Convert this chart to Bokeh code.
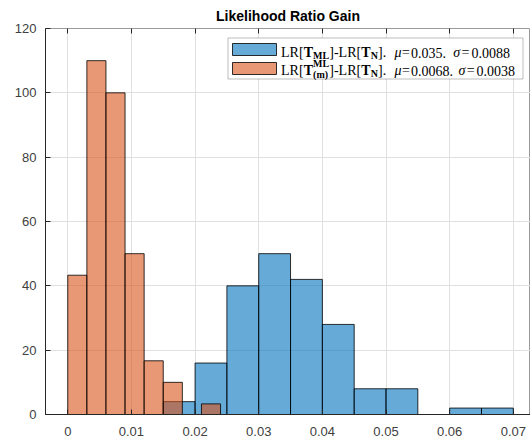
from bokeh.plotting import figure
from bokeh.models import Range1d, LinearAxis, FixedTicker, Label, BoxAnnotation, CustomJSTickFormatter
from bokeh.embed import file_html
from bokeh.resources import INLINE

# ---- data (pdf-normalised histograms) ----
blue_edges = [0.015, 0.020, 0.025, 0.030, 0.035, 0.040, 0.045, 0.050, 0.055, 0.060, 0.065, 0.070]
blue_density = [4, 16, 40, 50, 42, 28, 8, 8, 0, 2, 2]
orange_edges = [0.000, 0.003, 0.006, 0.009, 0.012, 0.015, 0.018, 0.021, 0.024]
orange_density = [43.3, 110.0, 100.0, 50.0, 16.7, 10.0, 0.0, 3.3]

x_ticks = [0, 0.01, 0.02, 0.03, 0.04, 0.05, 0.06, 0.07]
x_tick_labels = ["0", "0.01", "0.02", "0.03", "0.04", "0.05", "0.06", "0.07"]
y_ticks = [0, 20, 40, 60, 80, 100, 120]

blue_mu, blue_sigma = "0.035", "0.0088"
orange_mu, orange_sigma = "0.0068", "0.0038"
title_text = "Likelihood Ratio Gain"

BLUE = "#0072BD"
ORANGE = "#D95319"
AX = "#262626"
LBL = "#404040"
W, H = 530, 442
ML, MB = 45, 28          # frame left / bottom borders

p = figure(width=W, height=H, output_backend="svg", toolbar_location=None,
           x_range=Range1d(-0.0035, 0.0727), y_range=Range1d(0, 120),
           min_border_left=ML, min_border_right=0, min_border_top=27, min_border_bottom=MB)
p.background_fill_color = "white"
p.border_fill_color = "white"
p.outline_line_color = "#9a9a9a"
p.outline_line_width = 1

p.title.text = title_text
p.title.align = "center"
p.title.text_font = "Liberation Sans"
p.title.text_font_size = "14px"
p.title.text_font_style = "bold"
p.title.text_color = "#000000"

xt = FixedTicker(ticks=x_ticks)
yt = FixedTicker(ticks=y_ticks)
overrides = {t: l for t, l in zip(x_ticks, x_tick_labels)}

for ax in p.xaxis + p.yaxis:
    ax.axis_line_color = AX
    ax.major_tick_line_color = AX
    ax.major_tick_in = 5
    ax.major_tick_out = 0
    ax.minor_tick_line_color = None
    ax.major_label_text_font = "Liberation Sans"
    ax.major_label_text_font_size = "13px"
    ax.major_label_text_color = LBL
p.xaxis.ticker = xt
p.xaxis.major_label_overrides = overrides
p.xaxis.major_label_standoff = 12
p.yaxis.ticker = yt
p.yaxis.major_label_standoff = 9

top_ax = LinearAxis(ticker=xt, formatter=CustomJSTickFormatter(code="return ''"),
                    major_label_standoff=0,
                    axis_line_color=None, major_tick_line_color=AX,
                    major_tick_in=5, major_tick_out=0, minor_tick_line_color=None)
p.add_layout(top_ax, "above")

p.xgrid.ticker = xt
p.ygrid.ticker = yt
p.xgrid.grid_line_color = "#e0e0e0"
p.ygrid.grid_line_color = "#e0e0e0"

p.quad(left=blue_edges[:-1], right=blue_edges[1:], bottom=0, top=blue_density,
       fill_color=BLUE, fill_alpha=0.6, line_color="#000000", line_alpha=0.8, line_width=1)
p.quad(left=orange_edges[:-1], right=orange_edges[1:], bottom=0, top=orange_density,
       fill_color=ORANGE, fill_alpha=0.6, line_color="#000000", line_alpha=0.8, line_width=1)

# ---- manual legend (screen units are relative to the frame, origin bottom-left) ----
FB = H - MB  # canvas y of frame bottom

def fx(x):
    return x - ML

def fy(y):
    return FB - y

p.add_layout(BoxAnnotation(left=fx(227.5), right=fx(522.5), top=fy(37.5), bottom=fy(78.5),
                           left_units="screen", right_units="screen",
                           top_units="screen", bottom_units="screen",
                           fill_color="white", fill_alpha=1.0,
                           line_color=AX, line_width=1, level="overlay"))
for (y0, y1, col) in [(43, 55, BLUE), (62, 74, ORANGE)]:
    p.add_layout(BoxAnnotation(left=fx(232), right=fx(276), top=fy(y0), bottom=fy(y1),
                               left_units="screen", right_units="screen",
                               top_units="screen", bottom_units="screen",
                               fill_color=col, fill_alpha=0.6,
                               line_color="#000000", line_alpha=0.8, line_width=1,
                               level="overlay"))

SERIF = "Liberation Serif"

def piece(x, y, text, size=14, style="normal"):
    p.add_layout(Label(x=fx(x), y=fy(y), x_units="screen", y_units="screen", text=text,
                       text_font=SERIF, text_font_size=f"{size}px", text_font_style=style,
                       text_color="#000000", text_baseline="alphabetic", text_align="left",
                       level="overlay"))

# line 1
b1 = 52
piece(280.5, b1, "LR[")
piece(303.2, b1, "T", style="bold")
piece(312.6, b1 + 3, "ML", size=10, style="bold")
piece(328.8, b1, "]-LR[")
piece(360.8, b1, "T", style="bold")
piece(370.2, b1 + 3, "N", size=10, style="bold")
piece(377.5, b1, "].")
piece(394.0, b1, "μ", style="italic")
piece(401.5, b1, "=")
piece(410.5, b1, blue_mu + ".")
piece(452.7, b1, "σ", style="italic")
piece(461.0, b1, "=")
piece(471.0, b1, blue_sigma)

# line 2
b2 = 70
piece(280.5, b2, "LR[")
piece(303.2, b2, "T", style="bold")
piece(312.6, b2 - 7, "ML", size=10, style="bold")
piece(312.6, b2 + 4, "(m)", size=10, style="bold")
piece(328.8, b2, "]-LR[")
piece(360.8, b2, "T", style="bold")
piece(370.2, b2 + 3, "N", size=10, style="bold")
piece(377.5, b2, "].")
piece(394.0, b2, "μ", style="italic")
piece(401.5, b2, "=")
piece(410.5, b2, orange_mu + ".")
piece(458.0, b2, "σ", style="italic")
piece(466.3, b2, "=")
piece(476.0, b2, orange_sigma)

open("out.html", "w").write(file_html(p, INLINE))
